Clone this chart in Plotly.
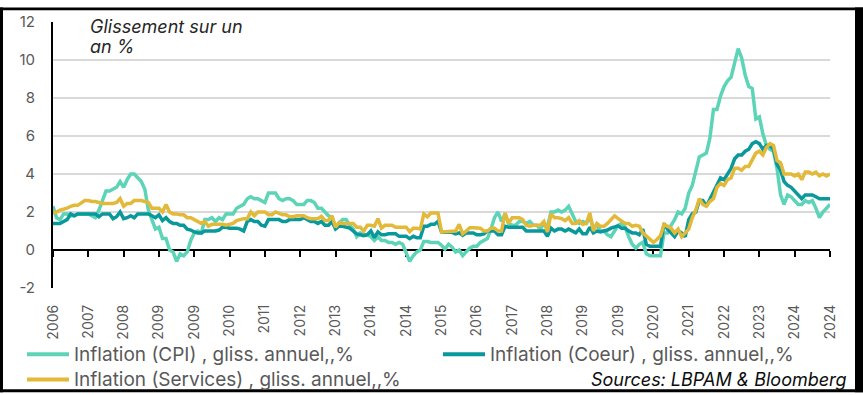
import plotly.graph_objects as go

# Monthly data, Aug 2006 -> Dec 2024 (year-on-year %)
cpi = [
    2.3, 1.7, 1.6, 1.9, 1.9,
    1.8, 1.8, 1.9, 1.9, 1.9, 1.9, 1.8, 1.7, 2.1, 2.6, 3.1, 3.1,
    3.2, 3.3, 3.6, 3.3, 3.7, 4.0, 4.0, 3.8, 3.6, 3.2, 2.1, 1.6,
    1.1, 1.2, 0.6, 0.6, 0.0, -0.1, -0.6, -0.2, -0.3, -0.1, 0.5, 0.9,
    1.0, 0.9, 1.6, 1.6, 1.7, 1.5, 1.7, 1.6, 1.9, 1.9, 1.9, 2.2,
    2.3, 2.4, 2.7, 2.8, 2.7, 2.7, 2.6, 2.5, 3.0, 3.0, 3.0, 2.7,
    2.6, 2.7, 2.7, 2.6, 2.4, 2.4, 2.4, 2.6, 2.6, 2.5, 2.2, 2.2,
    2.0, 1.8, 1.7, 1.2, 1.4, 1.6, 1.6, 1.3, 1.1, 0.7, 0.9, 0.8,
    0.8, 0.7, 0.5, 0.7, 0.5, 0.5, 0.4, 0.4, 0.3, 0.4, 0.3, -0.2,
    -0.6, -0.3, -0.1, 0.0, 0.45, 0.45, 0.4, 0.4, 0.4, 0.25, 0.05, 0.3,
    0.15, -0.1, 0.0, -0.3, -0.1, 0.1, 0.2, 0.2, 0.4, 0.5, 0.6, 1.1,
    1.7, 2.0, 1.5, 1.9, 1.4, 1.3, 1.3, 1.5, 1.5, 1.4, 1.5, 1.3,
    1.3, 1.1, 1.4, 1.2, 2.0, 2.0, 2.1, 2.0, 2.1, 2.3, 1.9, 1.5,
    1.4, 1.5, 1.4, 1.7, 1.2, 1.3, 1.0, 1.0, 0.8, 0.7, 1.0, 1.3,
    1.4, 1.2, 0.7, 0.3, 0.1, 0.3, 0.4, -0.2, -0.3, -0.3, -0.3, -0.3,
    0.9, 0.9, 1.3, 1.6, 2.0, 1.9, 2.2, 3.0, 3.4, 4.1, 4.9, 5.0,
    5.1, 5.9, 7.4, 7.4, 8.1, 8.6, 8.9, 9.1, 9.9, 10.6, 10.1, 9.2,
    8.6, 8.5, 6.9, 7.0, 6.1, 5.5, 5.3, 5.2, 4.3, 2.9, 2.4, 2.9,
    2.8, 2.6, 2.4, 2.4, 2.6, 2.5, 2.6, 2.2, 1.7, 2.0, 2.2, 2.4,
]

coeur = [
    1.4, 1.4, 1.4, 1.5, 1.6,
    1.9, 1.8, 1.9, 1.9, 1.9, 1.9, 1.9, 1.9, 1.75, 1.9, 1.9, 1.9,
    1.65, 1.75, 2.0, 1.65, 1.7, 1.8, 1.7, 1.9, 1.9, 1.9, 1.9, 1.8,
    1.7, 1.85, 1.55, 1.7, 1.5, 1.4, 1.4, 1.3, 1.3, 1.1, 1.05, 0.95,
    0.9, 0.9, 1.0, 1.0, 1.0, 1.0, 1.05, 1.2, 1.2, 1.15, 1.15, 1.15,
    1.1, 1.0, 1.5, 1.6, 1.5, 1.5, 1.3, 1.25, 1.6, 1.6, 1.6, 1.6,
    1.5, 1.5, 1.6, 1.6, 1.6, 1.6, 1.7, 1.6, 1.5, 1.5, 1.4, 1.5,
    1.3, 1.3, 1.5, 1.1, 1.25, 1.25, 1.2, 1.15, 1.0, 0.85, 0.8, 0.75,
    0.8, 1.0, 0.65, 0.95, 0.8, 0.8, 0.85, 0.85, 0.85, 0.72, 0.72, 0.72,
    0.6, 0.72, 0.65, 0.65, 1.25, 1.25, 1.35, 1.35, 1.5, 0.95, 0.93, 0.93,
    0.93, 0.85, 0.9, 0.77, 0.9, 0.9, 0.9, 0.8, 0.8, 0.85, 1.0, 1.0,
    1.0, 0.8, 0.8, 1.25, 1.2, 1.2, 1.2, 1.2, 1.2, 1.0, 1.0, 1.0,
    1.0, 1.0, 1.0, 0.72, 1.15, 1.0, 1.1, 1.1, 1.0, 1.1, 1.0, 0.9,
    1.1, 0.85, 0.85, 1.2, 0.9, 1.0, 0.95, 1.0, 1.05, 1.15, 1.2, 1.27,
    1.15, 1.15, 1.0, 0.9, 0.9, 0.8, 1.1, 0.3, 0.2, 0.2, 0.2, 0.2,
    1.4, 1.1, 0.9, 0.7, 1.0, 0.9, 0.7, 1.6, 1.9, 2.0, 2.6, 2.6,
    2.3, 2.7, 3.0, 3.5, 3.8, 3.7, 4.0, 4.3, 4.8, 5.0, 5.0, 5.2,
    5.3, 5.6, 5.7, 5.6, 5.3, 5.5, 5.5, 5.3, 4.5, 4.2, 3.6, 3.4,
    3.3, 3.1, 2.9, 2.7, 2.9, 2.9, 2.9, 2.8, 2.7, 2.7, 2.7, 2.7,
]

services = [
    1.95, 2.0, 2.1, 2.15, 2.2,
    2.3, 2.35, 2.35, 2.5, 2.6, 2.6, 2.55, 2.55, 2.5, 2.45, 2.45, 2.45,
    2.45, 2.5, 2.7, 2.3, 2.45, 2.45, 2.6, 2.6, 2.6, 2.55, 2.5, 2.2,
    2.2, 2.2, 2.0, 2.4, 2.0, 1.9, 1.9, 1.85, 1.85, 1.7, 1.7, 1.6,
    1.5, 1.4, 1.5, 1.25, 1.35, 1.35, 1.35, 1.35, 1.3, 1.35, 1.4, 1.55,
    1.6, 1.65, 1.65, 2.0, 1.8, 2.0, 2.0, 2.0, 1.85, 1.85, 2.0, 1.9,
    1.85, 1.85, 1.75, 1.75, 1.8, 1.8, 1.8, 1.7, 1.65, 1.65, 1.65, 1.77,
    1.55, 1.55, 1.8, 1.2, 1.45, 1.4, 1.4, 1.4, 1.4, 1.2, 1.2, 1.0,
    1.3, 1.3, 1.25, 1.65, 1.15, 1.3, 1.3, 1.3, 1.2, 1.2, 1.2, 1.2,
    0.97, 1.15, 1.15, 1.1, 1.9, 1.75, 1.95, 1.95, 1.95, 0.95, 0.97, 0.97,
    0.97, 1.0, 1.35, 0.85, 1.0, 1.17, 1.17, 1.17, 1.15, 1.0, 1.0, 1.15,
    1.15, 1.0, 1.0, 1.95, 1.4, 1.7, 1.7, 1.7, 1.6, 1.3, 1.25, 1.3,
    1.3, 1.3, 1.5, 0.95, 1.9, 1.7, 1.7, 1.65, 1.55, 1.7, 1.4, 1.4,
    1.55, 1.35, 1.4, 1.95, 1.0, 1.4, 1.25, 1.25, 1.4, 1.6, 1.8, 1.65,
    1.5, 1.4, 1.4, 1.25, 1.3, 1.25, 0.9, 0.75, 0.55, 0.4, 0.55, 0.75,
    1.35, 1.25, 1.15, 0.9, 1.1, 0.7, 0.9, 1.1, 1.7, 2.1, 2.7, 2.4,
    2.3, 2.55, 2.7, 3.3, 3.5, 3.4, 3.7, 3.8, 4.3, 4.3, 4.2, 4.4,
    4.4, 4.8, 5.1, 5.2, 5.0, 5.4, 5.6, 5.5, 4.7, 4.6, 4.0, 4.0,
    4.0, 3.9, 4.0, 3.7, 4.1, 4.1, 4.0, 4.1, 3.9, 4.0, 3.9, 4.0,
]

# Category axis: one label every 10 months (Aug 2006, Jun 2007, ...)
tick_positions = list(range(0, 221, 10))
tick_labels = ["2006", "2007", "2008", "2009", "2009", "2010", "2011", "2012",
               "2013", "2014", "2014", "2015", "2016", "2017", "2018", "2019",
               "2019", "2020", "2021", "2022", "2023", "2024", "2024"]
y_ticks = [-2, 0, 2, 4, 6, 8, 10, 12]
y_tick_labels = ["-2", "0", "2", "4", "6", "8", "10", "12"]

series_names = ["Inflation (CPI) , gliss. annuel,,%",
                "Inflation (Coeur) , gliss. annuel,,%",
                "Inflation (Services) , gliss. annuel,,%"]
colors = ["#5dd4b7", "#0a999b", "#e3b93a"]
title_lines = ["Glissement sur un", "an %"]
source_text = "Sources: LBPAM & Bloomberg"

FONT = "Inter"
GREY = "#595959"
W, H = 863, 395
ML, MR, MT, MB = 53, 33, 15, 107
PW, PH = W - ML - MR, H - MT - MB


def px_x(px):
    return (px - ML) / PW


def px_y(py):
    return (H - MB - py) / PH


idx = list(range(len(cpi)))

fig = go.Figure()
# invisible helper on the zero-line axis (so that this axis is drawn)
fig.add_trace(go.Scatter(x=idx, y=cpi, xaxis="x2", mode="lines",
                         line=dict(width=0, color="rgba(0,0,0,0)"),
                         showlegend=False, hoverinfo="skip"))

for name, vals, col in zip(series_names, [cpi, coeur, services], colors):
    fig.add_trace(go.Scatter(x=idx, y=vals, mode="lines", name=name,
                             line=dict(color=col, width=3.5), showlegend=False))

axis_common = dict(range=[0, 220], tickvals=tick_positions)
fig.update_layout(
    width=W, height=H,
    margin=dict(l=ML, r=MR, t=MT, b=MB, pad=0),
    paper_bgcolor="white", plot_bgcolor="white",
    font=dict(family=FONT, color=GREY, size=14),
    showlegend=False,
    xaxis=dict(**axis_common, ticktext=tick_labels, tickangle=-90,
               showline=False, showgrid=False, zeroline=False, ticks="",
               tickfont=dict(size=14, color=GREY), ticklabelstandoff=13),
    xaxis2=dict(**axis_common, overlaying="x", anchor="free",
                position=2 / 14, side="bottom", showticklabels=False,
                showline=True, linecolor="black", linewidth=2,
                ticks="outside", ticklen=6, tickwidth=2, tickcolor="black",
                showgrid=False, zeroline=False, layer="below traces"),
    yaxis=dict(range=[-2, 12], tickvals=y_ticks, ticktext=y_tick_labels,
               showline=True, linecolor="black", linewidth=2,
               showgrid=True, gridcolor="#d9d9d9", gridwidth=1.5,
               zeroline=False, ticks="", ticklabelstandoff=13,
               tickfont=dict(size=15, color=GREY)),
)

# legend drawn as line samples + text
legend_rows = [(27, 356), (443, 356), (27, 382)]
for name, col, (lx, ly) in zip(series_names, colors, legend_rows):
    fig.add_shape(type="line", xref="paper", yref="paper",
                  x0=px_x(lx), x1=px_x(lx + 42), y0=px_y(ly), y1=px_y(ly),
                  line=dict(color=col, width=4))
    fig.add_annotation(text=name, xref="paper", yref="paper",
                       x=px_x(lx + 45), y=px_y(ly), xanchor="left", yanchor="middle",
                       showarrow=False, font=dict(family=FONT, size=19, color=GREY))

# axis title text (two wrapped lines, tight spacing as in the original)
for line_text, ly in zip(title_lines, [20, 40]):
    fig.add_annotation(text="<i>" + line_text + "</i>", xref="paper", yref="paper",
                       x=px_x(88), y=px_y(ly), xanchor="left", yanchor="middle",
                       align="left", showarrow=False,
                       font=dict(family=FONT, size=18, color="#262626"))
fig.add_annotation(text="<i>" + source_text + "</i>", xref="paper", yref="paper",
                   x=px_x(849), y=px_y(382), xanchor="right", yanchor="middle",
                   showarrow=False, font=dict(family=FONT, size=18, color="#0d0d0d"))

# black frame around the whole picture
frame = [(0, 0, 3, H), (0, 0, W, 3), (0, H - 3, W, H), (W - 8, 0, W, H)]
for x0, y0, x1, y1 in frame:
    fig.add_shape(type="rect", xref="paper", yref="paper", layer="above",
                  x0=px_x(x0), x1=px_x(x1), y0=px_y(y1), y1=px_y(y0),
                  line=dict(width=0), fillcolor="black")

fig.write_html("out.html", config={"displayModeBar": False},
               post_script="document.body.style.margin='0';")
